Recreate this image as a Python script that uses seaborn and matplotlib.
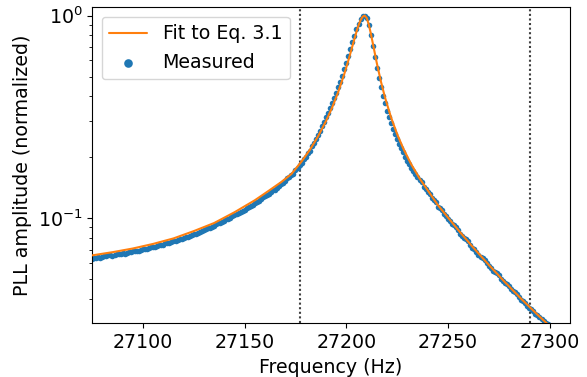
import numpy as np
import pandas as pd
import matplotlib
matplotlib.use("Agg")
import matplotlib.pyplot as plt
import seaborn as sns

# ---------------- data ----------------
# fitted curve (Eq. 3.1), frequency in Hz, normalized amplitude
freq_fit = [27075, 27085, 27095, 27105, 27115, 27125, 27135, 27145, 27155, 27162,
            27168, 27173, 27178, 27182, 27186, 27190, 27193, 27196, 27199, 27201,
            27203, 27205, 27206, 27207, 27208, 27209, 27210, 27211, 27212, 27213,
            27215, 27217, 27219, 27222, 27225, 27228, 27232, 27236, 27240, 27245,
            27250, 27256, 27262, 27270, 27278, 27286, 27294, 27302, 27310]
amp_fit = [0.0655, 0.0679, 0.0708, 0.0746, 0.0794, 0.0863, 0.0946, 0.1069, 0.1225, 0.1368,
           0.1507, 0.1652, 0.1905, 0.2169, 0.2524, 0.3012, 0.3510, 0.4191, 0.5146, 0.6001,
           0.7071, 0.8321, 0.8944, 0.9487, 0.9863, 1.0000, 0.9741, 0.9065, 0.8202, 0.7321,
           0.5823, 0.4734, 0.3950, 0.3140, 0.2596, 0.2208, 0.1837, 0.1572, 0.1374, 0.1161,
           0.1007, 0.0851, 0.0724, 0.0589, 0.0483, 0.0400, 0.0334, 0.0281, 0.0238]

# measured sweep: 1 Hz steps from 27075 Hz to 27304 Hz
freq_meas = np.arange(27075, 27305, 1)
amp_meas_low = [  # 27075 ... 27169 Hz
    0.0631, 0.0637, 0.0638, 0.0641, 0.0637, 0.0640, 0.0647, 0.0648, 0.0655, 0.0658,
    0.0653, 0.0655, 0.0662, 0.0667, 0.0668, 0.0671, 0.0667, 0.0670, 0.0678, 0.0681,
    0.0687, 0.0692, 0.0690, 0.0691, 0.0698, 0.0704, 0.0703, 0.0707, 0.0715, 0.0720,
    0.0719, 0.0722, 0.0730, 0.0736, 0.0735, 0.0740, 0.0750, 0.0752, 0.0757, 0.0760,
    0.0767, 0.0773, 0.0783, 0.0790, 0.0789, 0.0795, 0.0807, 0.0811, 0.0818, 0.0830,
    0.0836, 0.0838, 0.0845, 0.0853, 0.0865, 0.0871, 0.0885, 0.0893, 0.0895, 0.0901,
    0.0914, 0.0932, 0.0944, 0.0945, 0.0953, 0.0972, 0.0986, 0.0992, 0.1005, 0.1024,
    0.1038, 0.1047, 0.1062, 0.1078, 0.1086, 0.1102, 0.1127, 0.1140, 0.1148, 0.1163,
    0.1186, 0.1205, 0.1216, 0.1240, 0.1274, 0.1290, 0.1300, 0.1321, 0.1349, 0.1370,
    0.1384, 0.1408, 0.1442, 0.1470, 0.1486]
amp_meas_peak = [  # 27170 ... 27250 Hz
    0.1528, 0.1578, 0.1592, 0.1629, 0.1652, 0.1722, 0.1758, 0.1828, 0.1875, 0.1950,
    0.2009, 0.2094, 0.2143, 0.2259, 0.2355, 0.2460, 0.2582, 0.2704, 0.2838, 0.2979,
    0.3141, 0.3304, 0.3483, 0.3690, 0.3908, 0.4150, 0.4426, 0.4721, 0.5058, 0.5433,
    0.5848, 0.6310, 0.6808, 0.7362, 0.7962, 0.8551, 0.9120, 0.9616, 0.9931, 1.0000,
    0.9705, 0.8954, 0.8017, 0.7079, 0.6223, 0.5495, 0.4909, 0.4416, 0.4027, 0.3690,
    0.3396, 0.3155, 0.2944, 0.2761, 0.2594, 0.2449, 0.2317, 0.2208, 0.2109, 0.2014,
    0.1923, 0.1849, 0.1774, 0.1706, 0.1644, 0.1589, 0.1535, 0.1503, 0.1426, 0.1393,
    0.1343, 0.1315, 0.1259, 0.1225, 0.1197, 0.1140, 0.1119, 0.1102, 0.1052, 0.1030,
    0.0995]
amp_meas_high = [  # 27251 ... 27304 Hz
    0.0970, 0.0940, 0.0921, 0.0908, 0.0875, 0.0836, 0.0816, 0.0802, 0.0789, 0.0771,
    0.0740, 0.0715, 0.0702, 0.0684, 0.0661, 0.0643, 0.0637, 0.0624, 0.0600, 0.0582,
    0.0568, 0.0550, 0.0540, 0.0536, 0.0521, 0.0502, 0.0487, 0.0476, 0.0471, 0.0463,
    0.0447, 0.0435, 0.0431, 0.0423, 0.0407, 0.0395, 0.0389, 0.0380, 0.0369, 0.0361,
    0.0356, 0.0349, 0.0338, 0.0331, 0.0326, 0.0318, 0.0310, 0.0305, 0.0299, 0.0291,
    0.0284, 0.0279, 0.0273, 0.0269]
amp_meas = np.array(amp_meas_low + amp_meas_peak + amp_meas_high)

# frequency window markers (dotted vertical lines)
window_edges = [27177, 27290.4]

x_limits = (27075, 27310)
y_limits = (0.0302, 1.10)

# ---------------- plotting ----------------
sns.set_style("ticks")
plt.rcParams.update({
    "font.family": ["DejaVu Sans"],
    "font.size": 13.7,
    "axes.edgecolor": "black",
    "axes.labelcolor": "black",
    "text.color": "black",
    "xtick.color": "black",
    "ytick.color": "black",
    "axes.linewidth": 0.8,
    "xtick.major.size": 3.5,
    "ytick.major.size": 3.5,
    "ytick.minor.size": 2.0,
    "xtick.major.width": 0.8,
    "ytick.major.width": 0.8,
    "ytick.minor.width": 0.6,
    "xtick.labelsize": 13.7,
    "ytick.labelsize": 13.7,
    "axes.labelsize": 13.7,
    "legend.fontsize": 13.7,
})

fig, ax = plt.subplots(figsize=(5.87, 3.77), dpi=100)
fig.subplots_adjust(left=0.157, right=0.971, top=0.981, bottom=0.142)

meas = pd.DataFrame({"freq": freq_meas, "amp": amp_meas})
fit = pd.DataFrame({"freq": freq_fit, "amp": amp_fit})

sns.scatterplot(data=meas, x="freq", y="amp", ax=ax, s=16, color="#1f77b4",
                linewidth=0, label="Measured", zorder=2)
sns.lineplot(data=fit, x="freq", y="amp", ax=ax, color="#ff7f0e", linewidth=1.5,
             estimator=None, label="Fit to Eq. 3.1", zorder=3)

for xv in window_edges:
    ax.axvline(xv, color="0.25", linestyle=(0, (1.0, 1.2)), linewidth=1.5, zorder=1)

ax.set_yscale("log")
ax.set_xlim(*x_limits)
ax.set_ylim(*y_limits)
ax.set_xlabel("Frequency (Hz)")
ax.set_ylabel("PLL amplitude (normalized)")
for side in ["top", "right"]:
    ax.spines[side].set_visible(True)

handles, labels = ax.get_legend_handles_labels()
order = [labels.index("Fit to Eq. 3.1"), labels.index("Measured")]
ax.legend([handles[i] for i in order], [labels[i] for i in order],
          loc="upper left", markerscale=1.55)

fig.savefig("out.png", dpi=100)
